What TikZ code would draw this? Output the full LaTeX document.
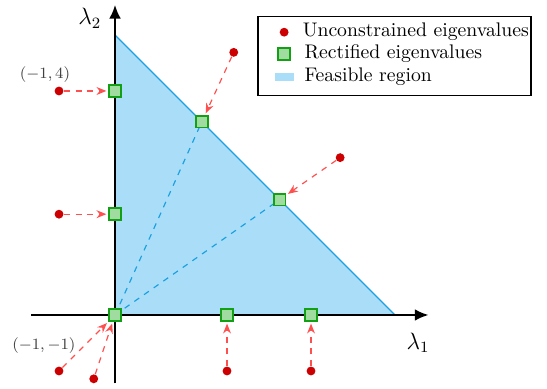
\documentclass[tikz,border=0pt]{standalone}
\usepackage{amsmath,amssymb}
\usepackage{xcolor}
\usepackage{tikz}
\usetikzlibrary{arrows.meta,positioning}
\definecolor{rawred}{RGB}{204,0,0}
\definecolor{projred}{RGB}{255,80,80}
\definecolor{fixgreen}{RGB}{20,160,20}
\definecolor{fixfill}{RGB}{160,220,160}
\definecolor{feasfill}{RGB}{170,222,248}
\definecolor{feasline}{RGB}{27,160,225}
\tikzstyle{raw}=[
circle,
fill=rawred,
inner sep=0pt,
minimum size=4.5pt
]
\tikzstyle{fixed}=[
draw=fixgreen,
fill=fixfill,
line width=0.8pt,
inner sep=0pt,
minimum size=6pt
]
\tikzstyle{proj}=[
dashed,
draw=projred,
semithick,
->,
>={Stealth[length=5pt,width=4pt]},
shorten >=1pt
]
\tikzstyle{ray}=[
dashed,
draw=feasline,
semithick
]
\tikzstyle{axis}=[
very thick,
->,
>={Latex[length=7pt,width=6pt]}
]

\begin{document}
\begin{tikzpicture}
\useasboundingbox (-2.054,-1.304) rectangle (7.714,5.625);

% feasible region
\fill[feasfill] (0,0) -- (0,5) -- (5,0) -- cycle;
\draw[feasline, semithick] (0,5) -- (5,0);

\coordinate (origin) at (0,0);
\draw [ray] (origin) -- (1.55,3.45);
\draw [ray] (origin) -- (2.94,2.06);

% axes
\coordinate (xmin) at (-1.5,0);
\coordinate (xmax) at (5.6,0);
\coordinate (ymin) at (0,-1.22);
\coordinate (ymax) at (0,5.54);
\draw [axis] (xmin) -- (xmax);
\draw [axis] (ymin) -- (ymax);
\node (l1) at (5.41,-0.5) {\large $\lambda_1$};
\node (l2) at (-0.45,5.3) {\large $\lambda_2$};

% unconstrained eigenvalues
\node (u1) [raw] at (-1,4) {};
\node (u2) [raw] at (-1,1.8) {};
\node (u3) [raw] at (2.12,4.69) {};
\node (u4) [raw] at (4.02,2.81) {};
\node (u5) [raw] at (-1,-1) {};
\node (u6) [raw] at (-0.38,-1.14) {};
\node (u7) [raw] at (2,-1) {};
\node (u8) [raw] at (3.5,-1) {};

% rectified eigenvalues
\node (r1) [fixed] at (0,4) {};
\node (r2) [fixed] at (0,1.8) {};
\node (r3) [fixed] at (1.55,3.45) {};
\node (r4) [fixed] at (2.94,2.06) {};
\node (r5) [fixed] at (0,0) {};
\node (r7) [fixed] at (2,0) {};
\node (r8) [fixed] at (3.5,0) {};

\draw [proj] (u1) -- (r1);
\draw [proj] (u2) -- (r2);
\draw [proj] (u3) -- (r3);
\draw [proj] (u4) -- (r4);
\draw [proj] (u5) -- (r5);
\draw [proj] (u6) -- (r5);
\draw [proj] (u7) -- (r7);
\draw [proj] (u8) -- (r8);

\node (p1) [text=black!75] at (-1.25,4.29) {\footnotesize $(-1,4)$};
\node (p5) [text=black!75] at (-1.27,-0.54) {\footnotesize $(-1,-1)$};

% legend
\node (legend) [draw, semithick, fill=white, minimum width=4.875cm, minimum height=1.41cm] at (4.99,4.62) {};
\node (k1) [raw] at (3.02,5.05) {};
\node (k2) [fixed] at (3.02,4.66) {};
\node (k3) [fill=feasfill, inner sep=0pt, minimum width=0.34cm, minimum height=0.13cm] at (3.02,4.25) {};
\node (t1) [right=0.24cm of k1, inner sep=0pt] {Unconstrained eigenvalues};
\node (t2) [right=0.24cm of k2, inner sep=0pt] {Rectified eigenvalues};
\node (t3) [right=0.18cm of k3, inner sep=0pt] {Feasible region};

\end{tikzpicture}
\end{document}
